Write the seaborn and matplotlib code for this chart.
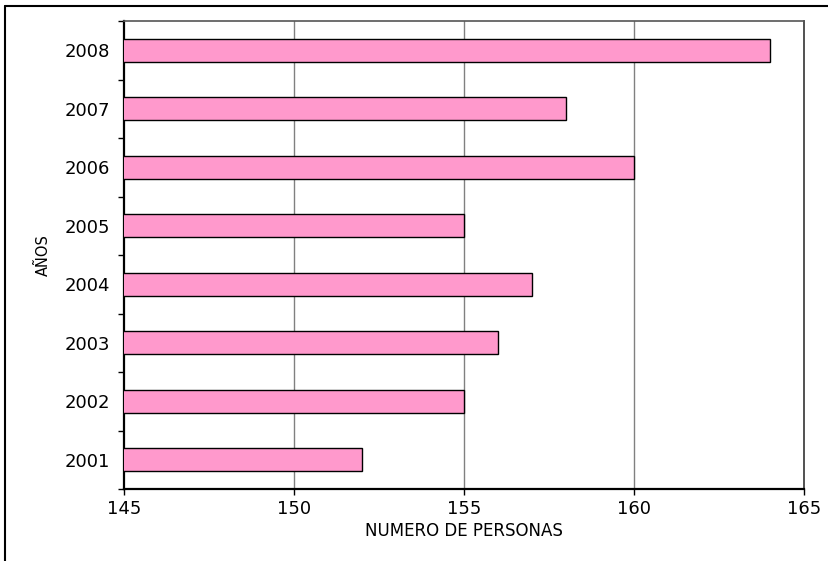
import matplotlib
matplotlib.use("Agg")
import matplotlib.pyplot as plt
import seaborn as sns
import pandas as pd
import numpy as np
from matplotlib.lines import Line2D

years = ["2008", "2007", "2006", "2005", "2004", "2003", "2002", "2001"]
personas = [164, 158, 160, 155, 157, 156, 155, 152]
x_ticks = [145, 150, 155, 160, 165]

sns.set_style("white")
plt.rcParams['font.family'] = ['DejaVu Sans']
plt.rcParams['text.color'] = 'black'
plt.rcParams['axes.labelcolor'] = 'black'
plt.rcParams['xtick.color'] = 'black'
plt.rcParams['ytick.color'] = 'black'

df = pd.DataFrame({"year": years, "personas": personas})

fig = plt.figure(figsize=(8.29, 5.61), dpi=100)
ax = fig.add_axes([124/829, 1-489/561, (804-124)/829, (489-21)/561])

sns.barplot(data=df, x="personas", y="year", order=years, orient="h",
            color="#FF99CC", saturation=1, edgecolor="black", linewidth=1.0,
            width=0.4, ax=ax, zorder=3)

ax.set_xlim(145, 165)
ax.set_ylim(7.5, -0.5)
ax.set_xticks(x_ticks)
ax.set_xticklabels([str(t) for t in x_ticks], fontsize=13)
ax.tick_params(axis="x", bottom=True, direction="out", length=4, width=1,
               color="black", labelcolor="black", pad=4)
ax.tick_params(axis="y", which="major", left=True, length=0, pad=10,
               labelsize=13, labelcolor="black")
ax.set_yticks(np.arange(-0.5, 8.0, 1.0), minor=True)
ax.tick_params(axis="y", which="minor", left=True, direction="out", length=4, width=1, color="black")
ax.set_xlabel("NUMERO DE PERSONAS", fontsize=12, labelpad=3, color="black")
ax.set_ylabel("AÑOS", fontsize=10.5, labelpad=10, color="black")

for v in [150, 155, 160]:
    ax.axvline(v, color="#808080", linewidth=1, zorder=1)

for side in ["left", "bottom"]:
    ax.spines[side].set_color("black")
    ax.spines[side].set_linewidth(1.6)
ax.spines["right"].set_color("#333333")
ax.spines["right"].set_linewidth(1.2)
ax.spines["top"].set_color("#555555")
ax.spines["top"].set_linewidth(1.2)

# outer chart frame (top and left visible)
fig.add_artist(Line2D([5/829, 1.0], [1-6/561, 1-6/561], transform=fig.transFigure, color="black", linewidth=1.5))
fig.add_artist(Line2D([5/829, 5/829], [0.0, 1-6/561], transform=fig.transFigure, color="black", linewidth=1.5))

fig.savefig("out.png", dpi=100)
